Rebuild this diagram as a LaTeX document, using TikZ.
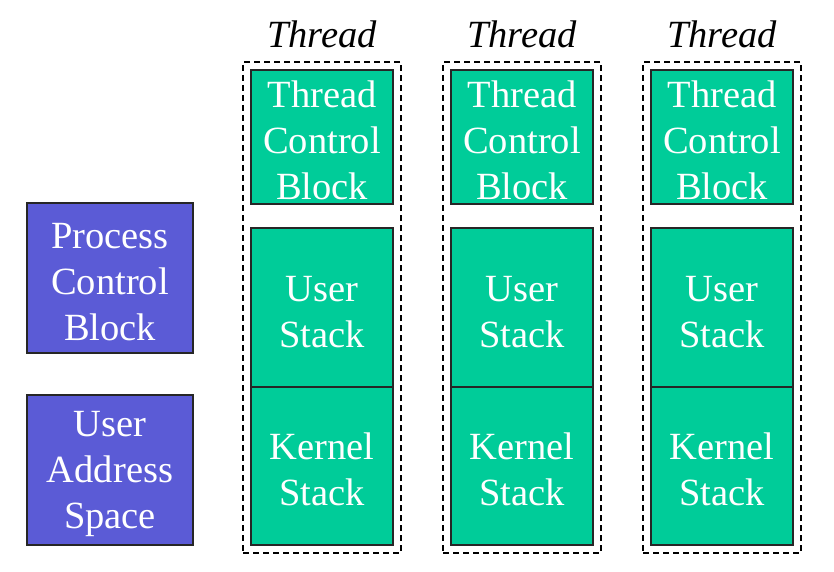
\documentclass[tikz,border=0pt]{standalone}
\usepackage{fontspec}
\setmainfont{Liberation Serif}
\usetikzlibrary{positioning,fit}
\definecolor{pcbblue}{RGB}{91,91,214}
\definecolor{thrgreen}{RGB}{0,204,153}
\newcommand{\topstrut}{\rule{0pt}{34pt}}
\tikzset{
  bigtext/.style={font=\fontsize{38.5}{46}\selectfont},
  boxtext/.style={bigtext,text=white,inner sep=0pt,outer sep=0pt,align=center},
  procbox/.style={boxtext,draw=black!85,line width=1.2pt,fill=pcbblue,
    minimum width=166pt,minimum height=150pt},
  thrbox/.style={boxtext,draw=black!85,line width=1.2pt,fill=thrgreen,
    minimum width=142pt},
  thrframe/.style={draw,line width=1.2pt,dash pattern=on 6pt off 4pt,inner sep=8pt}
}
\begin{document}
\begin{tikzpicture}[x=1pt,y=-1pt]
\useasboundingbox (0,0) rectangle (834,572);
\node[procbox] (pcb) at (110,278) {\topstrut Process\\Control\\Block};
\node[procbox] (uas) at (110,470) {\topstrut User\\Address\\Space};
\foreach \i in {1,2,3}{
  \node[thrbox,minimum height=134pt] (tcb\i) at (122+200*\i,137) {\topstrut Thread\\Control\\Block};
  \node[thrbox,minimum height=159pt] (us\i) at (122+200*\i,307.5) {\topstrut User\\Stack};
  \node[thrbox,minimum height=158pt,below=0pt of us\i] (ks\i) {\topstrut Kernel\\Stack};
  \node[thrframe,fit=(tcb\i)(ks\i)] (fr\i) {};
  \node[bigtext,anchor=base] (lbl\i) at ([yshift=14pt]fr\i.north) {\itshape Thread};
}
\end{tikzpicture}
\end{document}
